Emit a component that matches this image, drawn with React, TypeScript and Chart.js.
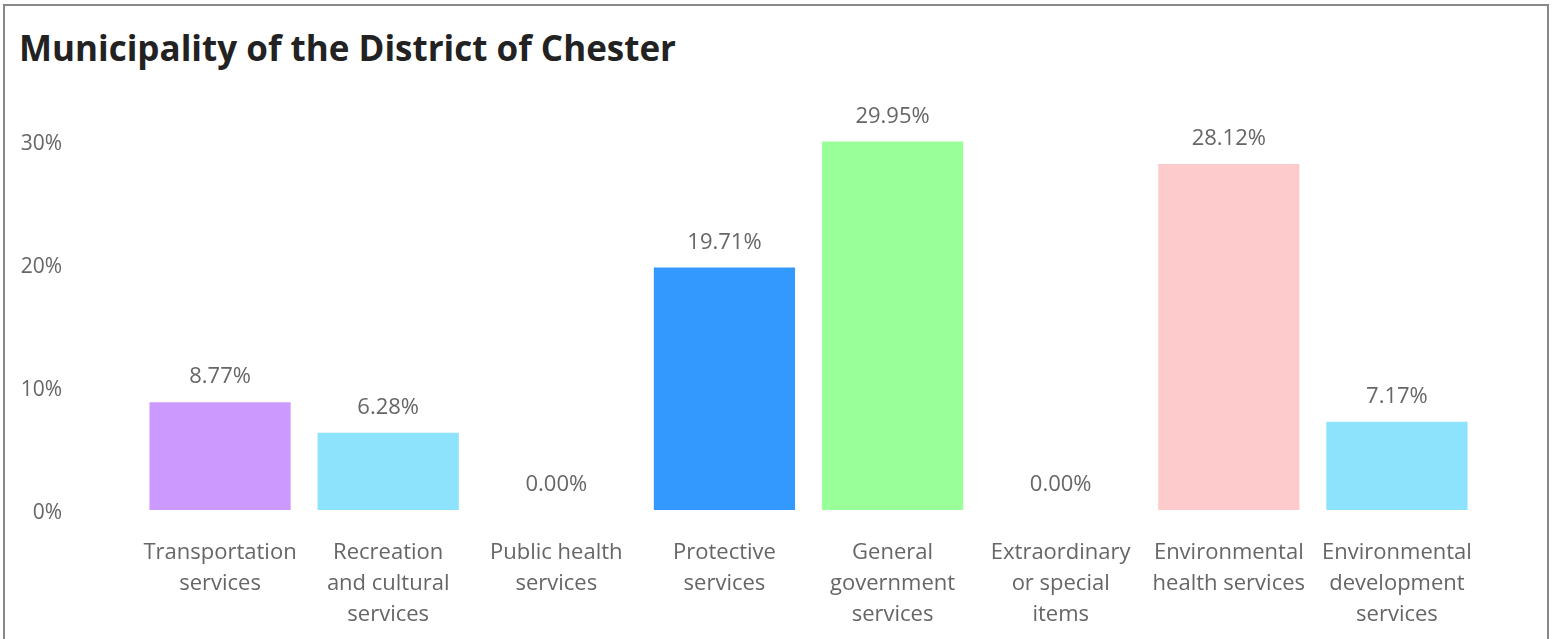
import React, { useEffect, useRef } from "react";
import { Chart, registerables } from "chart.js";

Chart.register(...registerables);

const TITLE = "Municipality of the District of Chester";
const categories: string[][] = [
  ["Transportation", "services"],
  ["Recreation", "and cultural", "services"],
  ["Public health", "services"],
  ["Protective", "services"],
  ["General", "government", "services"],
  ["Extraordinary", "or special", "items"],
  ["Environmental", "health services"],
  ["Environmental", "development", "services"],
];
const values: number[] = [8.77, 6.28, 0.0, 19.71, 29.95, 0.0, 28.12, 7.17];
const barColors: string[] = [
  "#cc99ff",
  "#8ee3fc",
  "#cccccc",
  "#3399ff",
  "#99ff99",
  "#cccccc",
  "#fdcbcb",
  "#8ee3fc",
];
const yTicks: number[] = [0, 10, 20, 30];

const FONT = "'Open Sans', 'Noto Sans', sans-serif";
const TEXT_COLOR = "#666666";

const valueLabels = {
  id: "valueLabels",
  afterDatasetsDraw(chart: any) {
    const ctx = chart.ctx;
    const meta = chart.getDatasetMeta(0);
    ctx.save();
    ctx.font = `22px ${FONT}`;
    ctx.fillStyle = TEXT_COLOR;
    ctx.textAlign = "center";
    ctx.textBaseline = "middle";
    meta.data.forEach((bar: any, i: number) => {
      const v = values[i];
      ctx.fillText(v.toFixed(2) + "%", bar.x, bar.y - 25);
    });
    ctx.restore();
  },
};

export default function App() {
  const ref = useRef<HTMLCanvasElement | null>(null);
  useEffect(() => {
    if (!ref.current) return;
    const chart = new Chart(ref.current, {
      type: "bar",
      data: {
        labels: categories,
        datasets: [
          {
            data: values,
            backgroundColor: barColors,
            borderWidth: 0,
            categoryPercentage: 1,
            barPercentage: 0.84,
          },
        ],
      },
      options: {
        animation: false,
        responsive: false,
        devicePixelRatio: 1,
        layout: { padding: { top: 141, bottom: 11, right: 75, left: 0 } },
        plugins: {
          legend: { display: false },
          title: { display: false },
          tooltip: { enabled: false },
        },
        scales: {
          x: {
            grid: { display: false, drawTicks: false },
            border: { display: false },
            afterFit(scale: any) {
              scale.height = 118;
            },
            ticks: {
              color: TEXT_COLOR,
              font: { family: FONT, size: 22, lineHeight: 1.41 },
              padding: 27,
              maxRotation: 0,
              autoSkip: false,
            },
          },
          y: {
            min: 0,
            max: 30,
            grid: { display: false, drawTicks: false },
            border: { display: false },
            afterFit(scale: any) {
              scale.width = 136;
            },
            afterBuildTicks(scale: any) {
              scale.ticks = yTicks.map((v) => ({ value: v }));
            },
            ticks: {
              color: TEXT_COLOR,
              font: { family: FONT, size: 21 },
              padding: 74,
              labelOffset: 3,
              callback: (v: any) => `${v}%`,
            },
          },
        },
      },
      plugins: [valueLabels],
    });
    return () => chart.destroy();
  }, []);

  return (
    <div style={{ position: "fixed", left: 0, top: 0, width: 1556, height: 639, background: "#fff", overflow: "hidden" }}>
      <div
        style={{
          position: "absolute",
          left: 3,
          top: 4,
          width: 1546,
          height: 700,
          border: "2px solid #888888",
          boxSizing: "border-box",
        }}
      />
      <div
        style={{
          position: "absolute",
          left: 19,
          top: 23,
          fontFamily: FONT,
          fontWeight: 700,
          fontSize: 35,
          color: "#222222",
          whiteSpace: "nowrap",
          lineHeight: "50px",
        }}
      >
        {TITLE}
      </div>
      <canvas ref={ref} width={1556} height={639} style={{ position: "absolute", left: 0, top: 0, width: 1556, height: 639 }} />
    </div>
  );
}
